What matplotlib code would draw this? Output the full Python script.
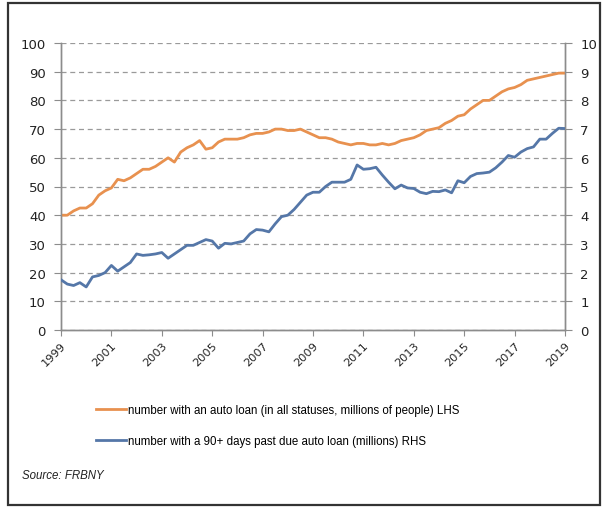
import matplotlib
matplotlib.use("Agg")
import matplotlib.pyplot as plt
from matplotlib.lines import Line2D
from matplotlib.patches import Rectangle
from matplotlib.transforms import ScaledTranslation

# Quarterly data 1999Q1 .. 2019Q1
years = [str(y) for y in range(1999, 2020, 2)]
auto_loan_people = [
    40, 40, 41.5, 42.5, 42.5, 44, 47, 48.5, 49.5, 52.5, 52, 53,
    54.5, 56, 56, 57, 58.5, 60, 58.5, 62, 63.5, 64.5, 66, 63,
    63.5, 65.5, 66.5, 66.5, 66.5, 67, 68, 68.5, 68.5, 69, 70, 70,
    69.5, 69.5, 70, 69, 68, 67, 67, 66.5, 65.5, 65, 64.5, 65,
    65, 64.5, 64.5, 65, 64.5, 65, 66, 66.5, 67, 68, 69.5, 70,
    70.5, 72, 73, 74.5, 75, 77, 78.5, 80, 80, 81.5, 83, 84,
    84.5, 85.5, 87, 87.5, 88, 88.5, 89, 89.5, 89.5,
]
delinquent_people = [
    1.75, 1.6, 1.55, 1.65, 1.5, 1.85, 1.9, 2.0, 2.25, 2.05, 2.2, 2.35,
    2.65, 2.6, 2.62, 2.65, 2.7, 2.5, 2.65, 2.8, 2.95, 2.95, 3.05, 3.15,
    3.1, 2.85, 3.02, 3.0, 3.05, 3.1, 3.35, 3.5, 3.48, 3.42, 3.7, 3.95,
    4.0, 4.2, 4.45, 4.7, 4.8, 4.8, 5.0, 5.15, 5.15, 5.15, 5.25, 5.75,
    5.6, 5.62, 5.67, 5.4, 5.15, 4.92, 5.05, 4.95, 4.93, 4.8, 4.75, 4.83,
    4.82, 4.88, 4.78, 5.2, 5.13, 5.35, 5.45, 5.47, 5.5, 5.65, 5.85, 6.08,
    6.02, 6.2, 6.32, 6.38, 6.65, 6.65, 6.85, 7.03, 7.02,
]
label_lhs = "number with an auto loan (in all statuses, millions of people) LHS"
label_rhs = "number with a 90+ days past due auto loan (millions) RHS"

ORANGE = "#E8914F"
BLUE = "#5577A8"
GRID = "#9a9a9a"
AXC = "#8c8c8c"

fig = plt.figure(figsize=(6.1, 5.1), dpi=100)
ax = fig.add_axes([61/610, 1-331/510, (565-61)/610, (331-44)/510])
ax2 = ax.twinx()

q = list(range(len(auto_loan_people)))
ax.plot(q, auto_loan_people, color=ORANGE, lw=2.0, zorder=3)
ax2.plot(q, delinquent_people, color=BLUE, lw=2.0, zorder=3)

ax.set_xlim(0, len(q) - 1)
ax.set_ylim(0, 100)
ax2.set_ylim(0, 10)
ax.set_yticks(range(0, 101, 10))
ax2.set_yticks(range(0, 11, 1))
ax.set_xticks(range(0, len(q), 8))
ax.set_xticklabels(years, rotation=45, ha="right", rotation_mode="anchor",
                   fontsize=8.2, color="#222222")
offset = ScaledTranslation(-6/72, -1/72, fig.dpi_scale_trans)
for lbl in ax.get_xticklabels():
    lbl.set_transform(lbl.get_transform() + offset)
ax.tick_params(axis="x", length=4, color=AXC, pad=3)
ax.tick_params(axis="y", length=5, color=AXC, labelsize=9.5, labelcolor="#222222", pad=6)
ax2.tick_params(axis="y", length=5, color=AXC, labelsize=9.5, labelcolor="#222222", pad=6)

ax.yaxis.grid(True, linestyle=(0, (4, 3)), color=GRID, lw=0.9)
ax.set_axisbelow(True)
for a in (ax, ax2):
    a.spines["top"].set_visible(False)
    for s in ("left", "right", "bottom"):
        a.spines[s].set_color(AXC)
        a.spines[s].set_linewidth(1.0)

# Legend
handles = [Line2D([], [], color=ORANGE, lw=2), Line2D([], [], color=BLUE, lw=2)]
fig.legend(handles, [label_lhs, label_rhs], loc="upper left",
           bbox_to_anchor=(86/610, 1-395/510), frameon=False,
           handlelength=2.6, handletextpad=0.1, labelspacing=1.6,
           prop={"family": "Liberation Sans", "size": 8.3})

fig.text(22/610, 1-476/510, "Source: FRBNY", fontsize=8.3, style="italic",
         family="Liberation Sans", color="#222222", va="center")

fig.patches.append(Rectangle((8/610, 4/510), 592/610, 1 - 8/510, transform=fig.transFigure,
                             fill=False, edgecolor="#333333", lw=1.6))

fig.savefig("out.png", dpi=100)
